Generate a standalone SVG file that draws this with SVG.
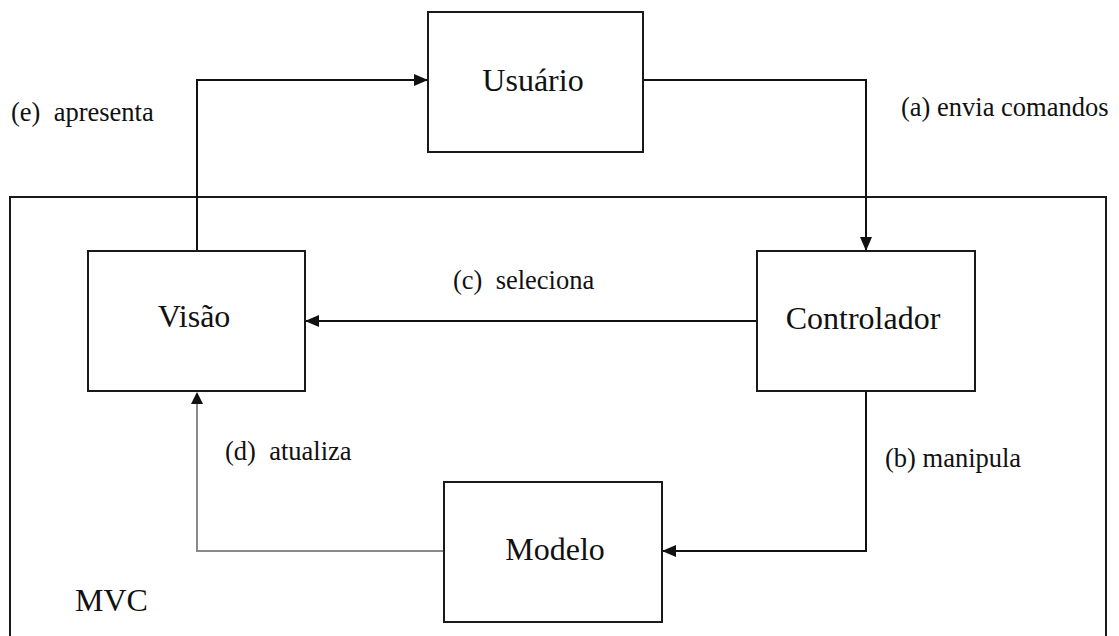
<svg xmlns="http://www.w3.org/2000/svg" width="1119" height="636" viewBox="0 0 1119 636">
<defs>
<style>
.box{fill:#fff;stroke:#1a1a1a;stroke-width:2}
.frame{fill:none;stroke:#1a1a1a;stroke-width:2}
.node{font-family:'Liberation Serif','Times New Roman',serif;font-size:32px;fill:#111;text-anchor:middle}
.lbl{font-family:'Liberation Serif','Times New Roman',serif;font-size:26.5px;fill:#111;white-space:pre}
.conn{fill:none;stroke:#111;stroke-width:2}
.gray{fill:none;stroke:#8a8a8a;stroke-width:2}
</style>
<marker id="ah" markerWidth="14" markerHeight="12" refX="13" refY="6" orient="auto" markerUnits="userSpaceOnUse">
<path d="M0,0 L14,6 L0,12 Z" fill="#111"/>
</marker>
</defs>
<rect width="1119" height="636" fill="#fff"/>
<g id="mvc-frame">
<rect class="frame" x="10" y="197" width="1096" height="460"/>
<text class="node" x="75" y="611" style="text-anchor:start">MVC</text>
</g>
<g id="connectors">
<path class="conn" d="M197,251 V80 H427" marker-end="url(#ah)"/>
<path class="conn" d="M643,80 H866 V250" marker-end="url(#ah)"/>
<path class="conn" d="M757,321 H306" marker-end="url(#ah)"/>
<path class="conn" d="M866,391 V551 H663" marker-end="url(#ah)"/>
<path class="gray" d="M444,551 H197 V398"/>
<path d="M197,392 L191,404 L203,404 Z" fill="#111"/>
<text class="lbl" x="11" y="121">(e)  apresenta</text>
<text class="lbl" x="901" y="116">(a) envia comandos</text>
<text class="lbl" x="453" y="289">(c)  seleciona</text>
<text class="lbl" x="225" y="460">(d)  atualiza</text>
<text class="lbl" x="885" y="467">(b) manipula</text>
</g>
<g id="usuario">
<rect class="box" x="428" y="12" width="215" height="140"/>
<text class="node" x="533" y="91">Usuário</text>
</g>
<g id="visao">
<rect class="box" x="88" y="251" width="217" height="140"/>
<text class="node" x="194" y="327">Visão</text>
</g>
<g id="controlador">
<rect class="box" x="757" y="251" width="218" height="140"/>
<text class="node" x="863" y="329">Controlador</text>
</g>
<g id="modelo">
<rect class="box" x="444" y="482" width="218" height="140"/>
<text class="node" x="555" y="560">Modelo</text>
</g>
</svg>
